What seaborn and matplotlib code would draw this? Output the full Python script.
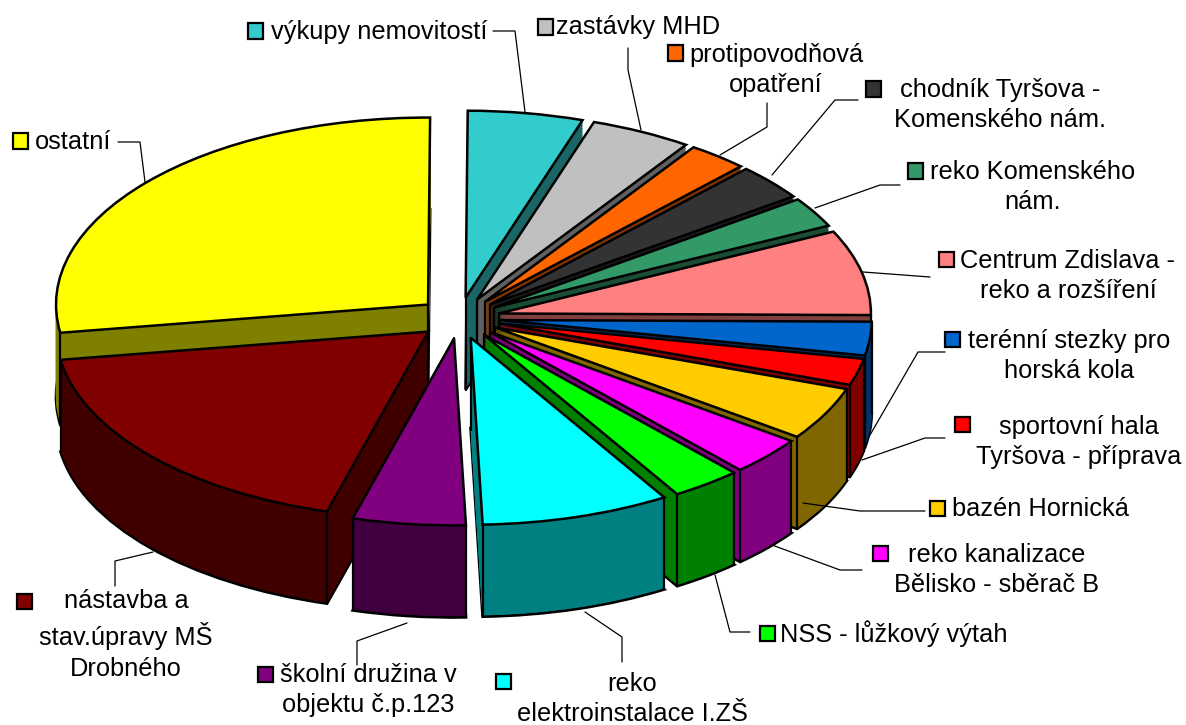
import numpy as np
import matplotlib
matplotlib.use("Agg")
import matplotlib.pyplot as plt
import matplotlib.colors as mcolors
from matplotlib.patches import Rectangle
import seaborn as sns

# podily v procentech, po smeru hodin od 3 hodin
nazvy = ["terénní stezky pro\nhorská kola", "sportovní hala\nTyršova - příprava", "bazén Hornická",
         "reko kanalizace\nBělisko - sběrač B", "NSS - lůžkový výtah", "reko\nelektroinstalace I.ZŠ",
         "školní družina v\nobjektu č.p.123", "nástavba a\nstav.úpravy MŠ\nDrobného", "ostatní",
         "výkupy nemovitostí", "zastávky MHD", "protipovodňová\nopatření",
         "chodník Tyršova -\nKomenského nám.", "reko Komenského\nnám.", "Centrum Zdislava -\nreko a rozšíření"]
podily = [2.9, 2.3, 4.6, 3.3, 3.05, 8.2, 4.9, 18.2, 27.5, 5.0, 4.4, 2.6, 3.1, 2.6, 7.35]
barvy = ["#0066CC", "#FF0000", "#FFCC00", "#FF00FF", "#00FF00", "#00FFFF", "#800080", "#800000",
         "#FFFF00", "#33CCCC", "#C0C0C0", "#FF6600", "#333333", "#339966", "#FF8080"]

# rozlozeni popisku v pixelech: klic (x, y), text (x, y)
klice = [(953, 340), (962, 424), (937, 508), (880, 553), (767, 633), (503, 681), (265, 674), (24, 601),
         (20, 141), (255, 31), (545, 27), (675, 53), (873, 89), (915, 171), (946, 260)]
texty = [(1069, 356), (1079, 442), (1040, 509), (997, 570), (894, 634), (632, 699), (368, 690), (126, 635),
         (73, 142), (379, 32), (638, 27), (776, 70), (1000, 105), (1033, 187), (1068, 276)]
vodici = [[(945, 352), (918, 352), (870, 435)], [(945, 438), (925, 438), (862, 460)],
          [(925, 511), (860, 511), (803, 503)], [(862, 570), (840, 570), (772, 545)],
          [(750, 632), (730, 632), (715, 575)], [(622, 662), (622, 637), (585, 612)],
          [(357, 665), (357, 641), (407, 623)], [(115, 586), (115, 561), (153, 552)],
          [(118, 142), (140, 142), (145, 182)], [(493, 31), (515, 31), (525, 112)],
          [(628, 48), (628, 70), (641, 130)], [(767, 103), (767, 127), (720, 155)],
          [(858, 100), (835, 100), (772, 175)], [(900, 185), (880, 185), (815, 208)],
          [(930, 277), (863, 272)]]

SIRKA, VYSKA = 1186, 725
CX, CY = 459, 318       # stred kolace
RX, RY = 372, 187       # poloosy elipsy
HLOUBKA = 92 / RY       # vyska valce
EXPLODE = 0.11

sns.set_theme(style="white")
plt.rcParams["font.family"] = ["Liberation Sans", "DejaVu Sans"]
paleta = sns.color_palette(barvy)
tmave = [tuple(0.5 * c for c in mcolors.to_rgb(b)) for b in paleta]

fig, ax = plt.subplots(figsize=(SIRKA / 100, VYSKA / 100), dpi=100)
fig.subplots_adjust(left=0, right=1, bottom=0, top=1)

# zadni vysece se kresli driv nez predni
uhly = np.cumsum([0] + podily[:-1]) + np.array(podily) / 2
poradi = np.argsort(np.argsort(np.sin(np.radians(uhly * 3.6))))

# boky: vrstvy kolace pod sebou
vrstvy = np.arange(HLOUBKA, 0, -1.5 / RY)
for k, d in enumerate(vrstvy):
    dno = k == 0
    wedges, _ = ax.pie(podily, explode=[EXPLODE] * len(podily), colors=tmave, startangle=-0.5,
                       counterclock=False, center=(0, -d), labeldistance=None,
                       wedgeprops={"linewidth": 2 if dno else 0.3})
    for i, w in enumerate(wedges):
        w.set_edgecolor("black" if dno else tmave[i])
        w.set_zorder(poradi[i] + 0.1 + 0.8 * k / len(vrstvy))

# horni plochy
wedges, _ = ax.pie(podily, explode=[EXPLODE] * len(podily), colors=paleta, startangle=-0.5,
                   counterclock=False, labeldistance=None,
                   wedgeprops={"linewidth": 1.8, "edgecolor": "black"})
for i, w in enumerate(wedges):
    w.set_zorder(poradi[i] + 0.99)
    x0, y0 = w.center
    rohy = [(x0, y0)]
    for t in (w.theta1, w.theta2):
        # zadni rohy maji bok schovany pod vrchem vysece
        if np.sin(np.radians(t)) < 0.01:
            rohy.append((x0 + np.cos(np.radians(t)), y0 + np.sin(np.radians(t))))
    # svisle hrany boku
    for x, y in rohy:
        ax.plot([x, x], [y, y - HLOUBKA], color="black", lw=1.6, zorder=poradi[i] + 0.95)

ax.set_aspect("auto")
ax.set_xlim(-CX / RX, (SIRKA - CX) / RX)
ax.set_ylim(-(VYSKA - CY) / RY, CY / RY)


def fx(x):
    return x / SIRKA


def fy(y):
    return 1 - y / VYSKA


for nazev, barva, klic, text, cara in zip(nazvy, paleta, klice, texty, vodici):
    fig.add_artist(Rectangle((fx(klic[0] - 7.5), fy(klic[1] + 7.5)), 15 / SIRKA, 15 / VYSKA, facecolor=barva,
                             edgecolor="black", lw=1.6, transform=fig.transFigure))
    fig.text(fx(text[0]), fy(text[1]), nazev, ha="center", va="center", fontsize=18.3, color="black",
             linespacing=1.36)
    xs, ys = zip(*cara)
    fig.add_artist(plt.Line2D([fx(x) for x in xs], [fy(y) for y in ys], color="black", lw=0.9,
                              transform=fig.transFigure))

fig.savefig("out.png", dpi=100)
plt.close(fig)
